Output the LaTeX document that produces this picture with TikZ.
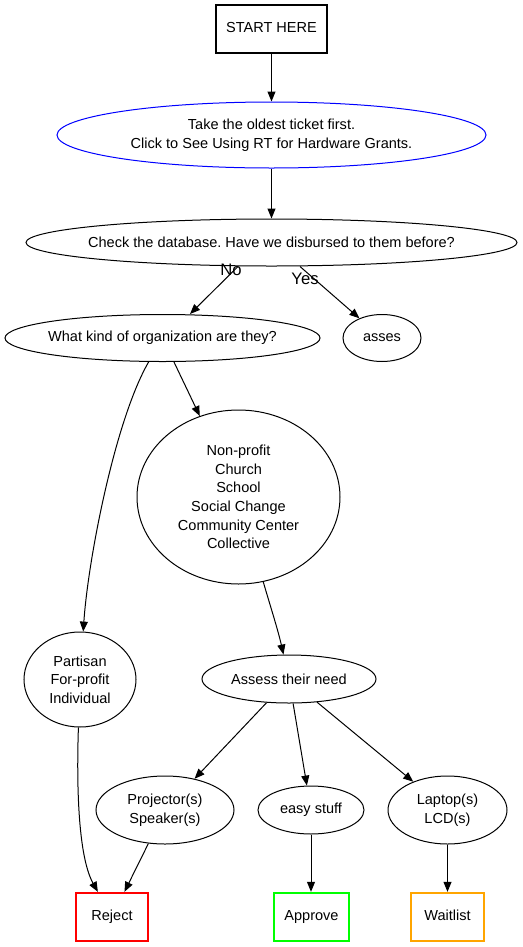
\documentclass[tikz,border=0pt]{standalone}
\usepackage{fontspec}
\setmainfont{Liberation Sans}
\frenchspacing
\usepackage{tikz}
\usetikzlibrary{arrows.meta,shapes.geometric}
\definecolor{LinkBlue}{HTML}{0000FF}
\definecolor{RejectRed}{HTML}{FF0000}
\definecolor{ApproveGreen}{HTML}{00FF00}
\definecolor{WaitOrange}{HTML}{FFA500}

\tikzset{
  oval/.style={ellipse, draw, line width=0.75pt, inner sep=0pt, align=center},
  endbox/.style={rectangle, draw, line width=1.8pt, inner sep=0pt, minimum height=36pt,
    text height=8pt, text depth=2.2pt, align=center},
  flow/.style={-{Triangle[length=7.5pt,width=6pt]}, line width=0.75pt},
  edgelabel/.style={font=\fontsize{12.5}{15}\selectfont}
}

\begin{document}
\begin{tikzpicture}[x=0.75pt, y=-0.75pt, every node/.style={font=\fontsize{10.9}{14}\selectfont}]
  \useasboundingbox (0,0) rectangle (523,947);
  % top of the chart
  \node[endbox, minimum width=83.25pt] (start) at (271.5,29) {START HERE};
  \node[oval, draw=LinkBlue, minimum width=321.75pt, minimum height=49.5pt] (oldest) at (271.5,135)
    {Take the oldest ticket first.\\Click to See Using RT for Hardware Grants.};
  \node[oval, inner xsep=-8pt, minimum width=368.25pt, minimum height=35.25pt] (check) at (271.5,242.5)
    {Check the database. Have we disbursed to them before?};
  \node[oval, inner xsep=-3pt, minimum width=236.25pt, minimum height=35.25pt] (kind) at (162.5,338)
    {What kind of organization are they?};
  \node[oval, minimum width=58.5pt, minimum height=35.25pt] (asses) at (382,338) {asses};
  % kinds of organization
  \node[oval, minimum width=152.25pt, minimum height=130.5pt] (nonprofit) at (238.5,497)
    {Non-profit\\Church\\School\\Social Change\\Community Center\\Collective};
  \node[oval, minimum width=84pt, minimum height=71.25pt] (partisan) at (80,679.5)
    {Partisan\\For-profit\\Individual};
  \node[oval, minimum width=130.5pt, minimum height=36pt] (need) at (289,679) {Assess their need};
  % kinds of hardware
  \node[oval, minimum width=103.5pt, minimum height=51pt] (projector) at (165,810)
    {Projector(s)\\Speaker(s)};
  \node[oval, minimum width=79.5pt, minimum height=36pt] (easy) at (311,810) {easy stuff};
  \node[oval, minimum width=89.25pt, minimum height=51pt] (laptop) at (447.5,810)
    {Laptop(s)\\LCD(s)};
  % outcomes
  \node[endbox, draw=RejectRed, minimum width=54pt] (reject) at (112,917) {Reject};
  \node[endbox, draw=ApproveGreen, minimum width=56.25pt] (approve) at (311.5,917) {Approve};
  \node[endbox, draw=WaitOrange, minimum width=54.75pt] (waitlist) at (447.5,917) {Waitlist};

  \draw[flow] (start) -- (oldest);
  \draw[flow] (oldest) -- (check);
  \draw[flow] (check.south -| 238,0) -- (kind.north -| 190,0);
  \draw[flow] (check.south -| 300,0) -- (asses);
  \node[edgelabel] (no) at (231,270) {No};
  \node[edgelabel] (yes) at (305,279) {Yes};
  \draw[flow] (kind) -- (nonprofit);
  \draw[flow] (kind) .. controls (115,420) and (88,560) .. (partisan);
  \draw[flow] (nonprofit) .. controls (270,605) and (278,630) .. (need);
  \draw[flow] (partisan) .. controls (76,800) and (80,860) .. (reject);
  \draw[flow] (need) -- (projector);
  \draw[flow] (need) -- (easy);
  \draw[flow] (need) -- (laptop);
  \draw[flow] (projector) -- (reject);
  \draw[flow] (easy) -- (easy |- approve.north);
  \draw[flow] (laptop) -- (waitlist);
\end{tikzpicture}
\end{document}
